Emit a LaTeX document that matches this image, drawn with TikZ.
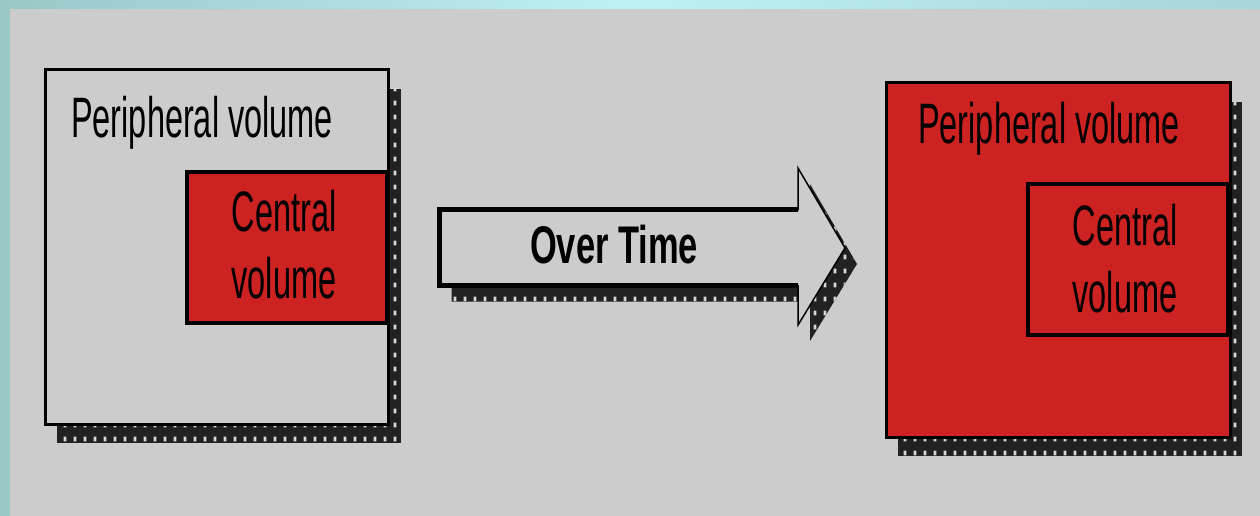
\documentclass[tikz,border=0pt]{standalone}
\usepackage{fontspec}
\usetikzlibrary{patterns.meta}
\newfontfamily\narrowfont[FakeStretch=0.57]{Liberation Sans}
\newfontfamily\overfont[FakeStretch=0.65]{Liberation Sans}
\definecolor{bg}{RGB}{204,204,204}
\definecolor{vred}{RGB}{204,34,34}
\definecolor{shd}{RGB}{34,34,34}
\definecolor{dotc}{RGB}{215,215,215}
\definecolor{tealL}{RGB}{154,198,198}
\definecolor{tealM}{RGB}{190,242,242}
\definecolor{tealR}{RGB}{166,214,214}
\tikzdeclarepattern{name=shdots, type=uncolored, bottom left={(0pt,0pt)}, top right={(10pt,14pt)}, tile size={(10pt,14pt)}, code={\fill (4pt,5pt) rectangle (7pt,10pt);}}
\begin{document}
\begin{tikzpicture}[x=1pt,y=-1pt,
  shadowfill/.style={fill=shd, draw=none},
  shadowdots/.style={pattern={shdots}, pattern color=dotc},
  frame/.style={draw=black, line width=3pt},
  innerframe/.style={draw=black, line width=4pt},
  lbl/.style={font=\narrowfont\fontsize{57}{67}\selectfont, inner sep=0pt, align=center},
  overlbl/.style={font=\overfont\bfseries\fontsize{53}{60}\selectfont, inner sep=0pt},
  arrowbody/.style={fill=bg, draw=black, line width=1.5pt, line join=miter},
]
\useasboundingbox (0,0) rectangle (1260,516);
% background
\fill[bg] (0,0) rectangle (1260,516);
\shade[left color=tealL, right color=tealR, middle color=tealM] (0,0) rectangle (1260,9);
\fill[tealL] (0,0) rectangle (10,516);

% left box
\fill[shadowfill] (57,89) rectangle (401,443);
\fill[shadowdots] (57,89) rectangle (401,443);
\path[frame, fill=bg] (45.5,69.5) rectangle (388.5,424.5);
\path[innerframe, fill=vred] (187,172) rectangle (387,323);
\node[lbl, anchor=base west] (lper) at (71,138) {Peripheral volume};
\node[lbl, anchor=base] (lcen) at (284,298) {Central\\volume};

% arrow
\begin{scope}[shift={(12,16)}]
\fill[shadowfill] (439.5,209.5) -- (798,209.5) -- (798,168) -- (845,248) -- (798,325) -- (798,285.5) -- (439.5,285.5) -- cycle;
\fill[shadowdots] (439.5,209.5) -- (798,209.5) -- (798,168) -- (845,248) -- (798,325) -- (798,285.5) -- (439.5,285.5) -- cycle;
\end{scope}
\path[arrowbody] (439.5,209.5) -- (798,209.5) -- (798,168) -- (845,248) -- (798,325) -- (798,285.5) -- (439.5,285.5) -- cycle;
\draw[line width=5pt] (798,209.5) -- (439.5,209.5) -- (439.5,285.5) -- (798,285.5);
\node[overlbl, anchor=base] (over) at (614,263) {Over Time};

% right box
\fill[shadowfill] (898,102) rectangle (1242,456);
\fill[shadowdots] (898,102) rectangle (1242,456);
\path[frame, fill=vred] (886.5,82.5) rectangle (1230.5,437.5);
\path[innerframe, fill=vred] (1028,184) rectangle (1228,335);
\node[lbl, anchor=base west] (rper) at (918,143) {Peripheral volume};
\node[lbl, anchor=base] (rcen) at (1125,312) {Central\\volume};
\end{tikzpicture}
\end{document}
